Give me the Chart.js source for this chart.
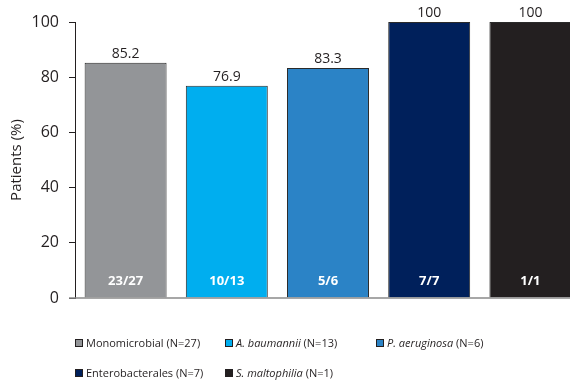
<!DOCTYPE html>
<html>
<head>
<meta charset="utf-8">
<script src="https://cdn.jsdelivr.net/npm/chart.js@4/dist/chart.umd.min.js"></script>
<style>
  html, body { margin: 0; padding: 0; background: #fff; overflow: hidden; }
  #wrap { position: relative; width: 570px; height: 380px; overflow: hidden; }
  #chart { position: absolute; left: 0; top: 0; }
  .leg { position: absolute; font-family: "Open Sans", sans-serif; font-size: 11px; color: #231f20;
         white-space: nowrap; line-height: 14px; }
  .leg i.sw { display: inline-block; width: 6px; height: 6px; border: 1px solid #231f20;
              margin-right: 3px; vertical-align: 0px; }
</style>
</head>
<body>
<div id="wrap">
  <canvas id="chart" width="582" height="380"></canvas>
  <div id="legend"></div>
</div>
<script>
// Bacterial groups and their response rates
const categories = ['Monomicrobial', 'A. baumannii', 'P. aeruginosa', 'Enterobacterales', 'S. maltophilia'];
const percents   = [85.2, 76.9, 83.3, 100, 100];
const responders = [23, 10, 5, 7, 1];
const totals     = [27, 13, 6, 7, 1];
const colors     = ['#939598', '#00aeef', '#2b83c6', '#00205b', '#231f20'];
const yTicks     = [0, 20, 40, 60, 80, 100];

// legend: name, whether the name is a species (italic), sample size
const legendItems = [
  { name: 'Monomicrobial',    italic: false, n: 27, x: 75,  y: 336 },
  { name: 'A. baumannii',     italic: true,  n: 13, x: 225, y: 336 },
  { name: 'P. aeruginosa',    italic: true,  n: 6,  x: 376, y: 336 },
  { name: 'Enterobacterales', italic: false, n: 7,  x: 75,  y: 366 },
  { name: 'S. maltophilia',   italic: true,  n: 1,  x: 225, y: 366 }
];

const legendEl = document.getElementById('legend');
legendItems.forEach((it, i) => {
  const d = document.createElement('div');
  d.className = 'leg';
  d.style.left = it.x + 'px';
  d.style.top = it.y + 'px';
  const sw = document.createElement('i');
  sw.className = 'sw';
  sw.style.background = colors[i];
  d.appendChild(sw);
  const nm = document.createElement(it.italic ? 'em' : 'span');
  nm.textContent = it.name;
  d.appendChild(nm);
  d.appendChild(document.createTextNode(' (N=' + totals[i] + ')'));
  legendEl.appendChild(d);
});

// value labels above bars and n/N labels inside bars
const barLabels = {
  id: 'barLabels',
  afterDatasetsDraw(chart) {
    const ctx = chart.ctx;
    const meta = chart.getDatasetMeta(0);
    const yScale = chart.scales.y;
    ctx.save();
    ctx.textAlign = 'center';
    meta.data.forEach((bar, i) => {
      ctx.fillStyle = '#231f20';
      ctx.font = '14px "Open Sans", sans-serif';
      ctx.textBaseline = 'bottom';
      ctx.fillText(String(percents[i]), bar.x, bar.y - 2);
      ctx.fillStyle = '#ffffff';
      ctx.font = 'bold 13px "Open Sans", sans-serif';
      ctx.textBaseline = 'middle';
      ctx.fillText(responders[i] + '/' + totals[i], bar.x, yScale.getPixelForValue(0) - 17);
    });
    ctx.restore();
  }
};

// baseline extends slightly left of the y axis
const baseline = {
  id: 'baseline',
  afterDraw(chart) {
    const ctx = chart.ctx;
    const y = chart.scales.y.getPixelForValue(0);
    ctx.save();
    ctx.strokeStyle = '#8a8a8a';
    ctx.lineWidth = 1.5;
    ctx.beginPath();
    ctx.moveTo(chart.chartArea.left - 6, y);
    ctx.lineTo(chart.chartArea.right, y);
    ctx.stroke();
    ctx.restore();
  }
};

new Chart(document.getElementById('chart'), {
  type: 'bar',
  data: {
    labels: categories,
    datasets: [{
      data: percents,
      backgroundColor: colors,
      borderColor: '#2a2a2a',
      borderWidth: 1,
      barPercentage: 0.81,
      categoryPercentage: 1
    }]
  },
  options: {
    responsive: false,
    animation: false,
    devicePixelRatio: 1,
    layout: { padding: { top: 22, bottom: 82, left: 0, right: 1 } },
    plugins: { legend: { display: false }, tooltip: { enabled: false } },
    scales: {
      x: {
        grid: { display: false, drawTicks: false },
        border: { display: false },
        ticks: { display: false },
        afterFit(scale) { scale.height = 0; }
      },
      y: {
        min: 0,
        max: 100,
        afterBuildTicks(scale) { scale.ticks = yTicks.map(v => ({ value: v })); },
        ticks: {
          color: '#231f20',
          padding: 10,
          font: { family: '"Open Sans", sans-serif', size: 16 }
        },
        grid: { drawOnChartArea: false, drawTicks: true, tickLength: 6, color: '#231f20' },
        border: { display: true, color: '#231f20', width: 1 },
        title: {
          display: true,
          text: 'Patients (%)',
          color: '#231f20',
          font: { family: '"Open Sans", sans-serif', size: 15 },
          padding: { top: 8, bottom: 0 }
        },
        afterFit(scale) { scale.width = 75; }
      }
    }
  },
  plugins: [barLabels, baseline]
});
</script>
</body>
</html>
